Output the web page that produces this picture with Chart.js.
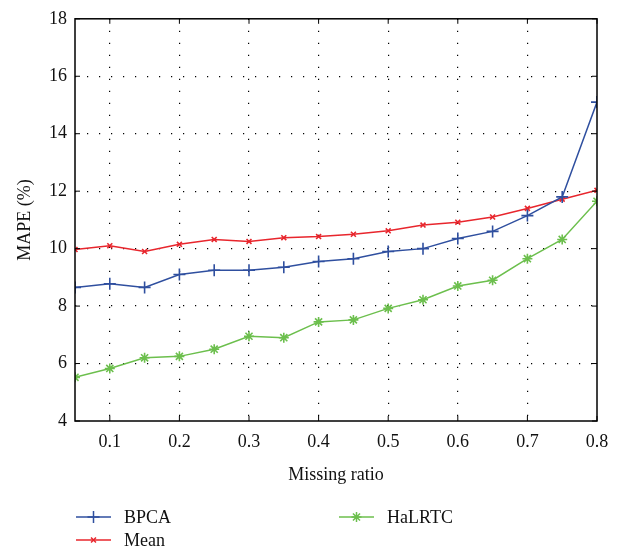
<!DOCTYPE html>
<html>
<head>
<meta charset="utf-8">
<script src="https://cdn.jsdelivr.net/npm/chart.js@4"></script>
<style>
  html, body { margin: 0; padding: 0; background: #fff; }
  #wrap { width: 622px; height: 552px; }
</style>
</head>
<body>
<div id="wrap"><canvas id="chart" width="622" height="552"></canvas></div>
<script>
const missingRatio = [0.05, 0.1, 0.15, 0.2, 0.25, 0.3, 0.35, 0.4, 0.45, 0.5, 0.55, 0.6, 0.65, 0.7, 0.75, 0.8]
const bpca = [8.65, 8.78, 8.65, 9.1, 9.25, 9.25, 9.35, 9.55, 9.65, 9.9, 10.0, 10.35, 10.6, 11.15, 11.8, 15.1]
const mean = [9.97, 10.1, 9.9, 10.15, 10.32, 10.25, 10.38, 10.42, 10.5, 10.62, 10.82, 10.92, 11.1, 11.4, 11.72, 12.03]
const halrtc = [5.52, 5.83, 6.2, 6.25, 6.5, 6.95, 6.9, 7.45, 7.52, 7.92, 8.22, 8.7, 8.9, 9.65, 10.32, 11.65]
const xTicks = [0.1, 0.2, 0.3, 0.4, 0.5, 0.6, 0.7, 0.8]
const yTicks = [4, 6, 8, 10, 12, 14, 16, 18]

const FONT = '"Liberation Serif", "DejaVu Serif", serif'

const toPoints = (ys) => ys.map((y, i) => ({ x: missingRatio[i], y }))

const series = [
  { label: 'BPCA', data: bpca, color: '#2f4f9f', style: 'cross', r: 6 },
  { label: 'Mean', data: mean, color: '#e8262d', style: 'crossRot', r: 3.5 },
  { label: 'HaLRTC', data: halrtc, color: '#6cbf4d', style: 'star', r: 5 },
]

// frame, inner ticks and the two-column legend
const framePlugin = {
  id: 'frame',
  afterDraw(chart) {
    const { ctx, chartArea: a, scales } = chart
    ctx.save()
    ctx.strokeStyle = '#000'
    ctx.lineWidth = 1.5
    ctx.strokeRect(a.left, a.top, a.right - a.left, a.bottom - a.top)
    ctx.lineWidth = 1
    ctx.beginPath()
    yTicks.forEach((v) => {
      const y = scales.y.getPixelForValue(v)
      ctx.moveTo(a.left, y); ctx.lineTo(a.left + 5, y)
      ctx.moveTo(a.right, y); ctx.lineTo(a.right - 5, y)
    })
    xTicks.forEach((v) => {
      const x = scales.x.getPixelForValue(v)
      ctx.moveTo(x, a.bottom); ctx.lineTo(x, a.bottom - 5)
      ctx.moveTo(x, a.top); ctx.lineTo(x, a.top + 5)
    })
    ctx.stroke()

    // legend
    const spots = [[76, 517], [76, 540], [339, 517]]
    chart.data.datasets.forEach((ds, i) => {
      const [x, y] = spots[i]
      ctx.strokeStyle = ds.borderColor
      ctx.lineWidth = 1.5
      ctx.beginPath()
      ctx.moveTo(x, y); ctx.lineTo(x + 35, y)
      ctx.stroke()
      Chart.helpers.drawPoint(ctx, {
        pointStyle: ds.pointStyle, radius: ds.pointRadius, borderWidth: 1.5,
      }, x + 17.5, y)
      ctx.fillStyle = '#111'
      ctx.font = '18px ' + FONT
      ctx.textBaseline = 'middle'
      ctx.fillText(ds.label, x + 48, y + 1)
    })
    ctx.restore()
  },
}

const dotted = [1.2, 10.8]

new Chart(document.getElementById('chart'), {
  type: 'line',
  data: {
    datasets: series.map((s) => ({
      label: s.label,
      data: toPoints(s.data),
      borderColor: s.color,
      backgroundColor: s.color,
      borderWidth: 1.5,
      pointStyle: s.style,
      pointRadius: s.r,
      pointBorderWidth: 1.6,
      tension: 0,
    })),
  },
  options: {
    responsive: false,
    animation: false,
    layout: { padding: { top: 12, right: 25, left: 0, bottom: 66 } },
    plugins: { legend: { display: false }, tooltip: { enabled: false } },
    scales: {
      x: {
        type: 'linear',
        min: 0.05,
        max: 0.8,
        afterBuildTicks: (scale) => { scale.ticks = xTicks.map((v) => ({ value: v })) },
        afterFit: (scale) => { scale.height = 65 },
        border: { display: false, dash: dotted },
        grid: {
          color: (c) => (c.tick && c.tick.value < 0.8 ? '#000' : 'rgba(0,0,0,0)'),
          lineWidth: 1.2,
          drawTicks: false,
        },
        ticks: {
          color: '#111',
          padding: 10,
          font: { family: FONT, size: 18 },
          callback: (v) => v.toFixed(1),
        },
        title: {
          display: true,
          text: 'Missing ratio',
          color: '#111',
          font: { family: FONT, size: 18 },
          padding: { top: 8, bottom: 0 },
        },
      },
      y: {
        min: 4,
        max: 18,
        afterBuildTicks: (scale) => { scale.ticks = yTicks.map((v) => ({ value: v })) },
        afterFit: (scale) => { scale.width = 75 },
        border: { display: false, dash: dotted },
        grid: {
          color: (c) => (c.tick && c.tick.value > 4 && c.tick.value < 18 ? '#000' : 'rgba(0,0,0,0)'),
          lineWidth: 1.2,
          drawTicks: false,
        },
        ticks: {
          color: '#111',
          padding: 8,
          font: { family: FONT, size: 18 },
        },
        title: {
          display: true,
          text: 'MAPE (%)',
          color: '#111',
          font: { family: FONT, size: 18 },
          padding: { top: 14, bottom: 0 },
        },
      },
    },
  },
  plugins: [framePlugin],
})
</script>
</body>
</html>
